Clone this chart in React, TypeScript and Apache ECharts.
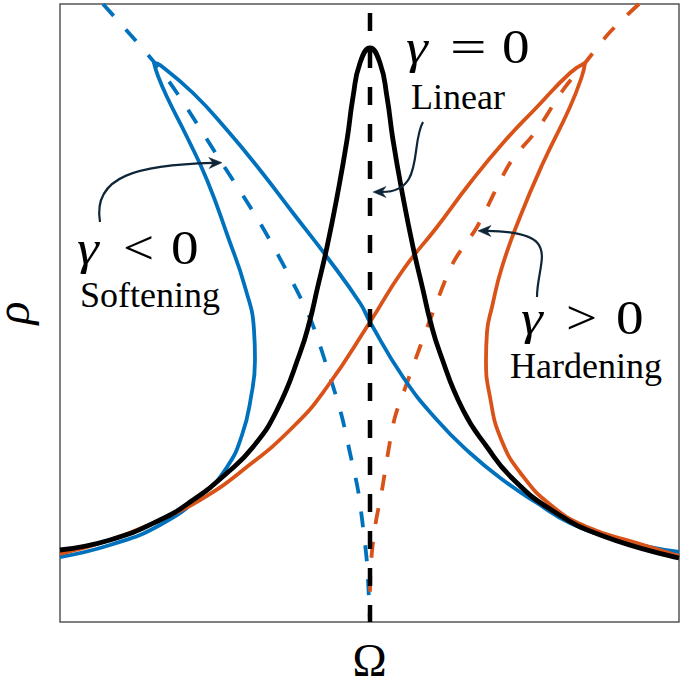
import React, { useEffect, useRef } from "react";
import * as echarts from "echarts";

type P = [number, number];

// Values. Ω axis runs 0..619, ρ axis 0..618 (arbitrary units).
const OMEGA_MAX = 619;
const RHO_MAX = 618;

// γ = 0 (linear) response
const linearCurve: P[] = [
  [0, 72], [50, 82], [100, 102], [133, 122], [167, 149], [193, 175], [217, 212],
  [240, 269], [250, 302], [257, 332], [267, 375], [277, 425], [287, 482], [293, 525],
  [300, 559], [310, 574], [320, 559], [327, 525], [333, 482], [343, 425], [353, 375],
  [363, 332], [370, 302], [380, 269], [403, 212], [427, 175], [453, 143], [493, 111],
  [543, 86], [619, 64],
];

// γ < 0 (softening) response
const softeningCurve: P[] = [
  [0, 65], [50, 77], [100, 97], [143, 128], [167, 155], [182, 187], [191, 225],
  [195, 262], [194, 292], [185, 335], [168, 385], [147, 442], [127, 485], [107, 525],
  [98, 546], [94, 559], [100, 557], [133, 529], [167, 492], [200, 452], [233, 409],
  [267, 365], [300, 319], [310, 300], [343, 245], [377, 202], [410, 169], [443, 142],
  [477, 119], [510, 99], [560, 82], [619, 70],
];

// γ > 0 (hardening) response
const hardeningCurve: P[] = [
  [0, 68], [50, 82], [100, 102], [140, 122], [183, 152], [233, 195], [267, 235],
  [310, 300], [343, 352], [377, 395], [410, 439], [443, 479], [477, 515], [510, 549],
  [525, 559], [522, 546], [510, 515], [483, 459], [460, 405], [442, 355], [432, 315],
  [427, 290], [426, 262], [430, 225], [441, 183], [462, 147], [492, 116], [527, 95],
  [577, 79], [619, 66],
];

// backbone curves (dashed)
const softeningBackbone: P[] = [
  [43, 618], [68, 590], [94, 560], [117, 529], [160, 462], [200, 399], [233, 339],
  [252, 299], [272, 239], [282, 205], [290, 169], [298, 132], [303, 95], [307, 59],
  [309, 22], [310, 0],
];
const hardeningBackbone: P[] = [
  [579, 618], [550, 590], [525, 559], [503, 532], [477, 492], [450, 459], [417, 395],
  [393, 359], [370, 302], [360, 275], [347, 239], [335, 205], [328, 169], [322, 132],
  [315, 95], [311, 59], [310, 22], [310, 0],
];
const linearBackbone: P[] = [[310, 609], [310, 0]];

// annotation arrows: [start, control 1, control 2, end] in data units
const arrowSoftening: P[] = [[40, 400], [32, 447], [80, 457], [150, 459]];
const arrowLinear: P[] = [[363, 500], [350, 477], [365, 430], [325, 430]];
const arrowHardening: P[] = [[477, 325], [477, 362], [505, 390], [430, 391]];

const BLUE = "#0072BD";
const ORANGE = "#D95319";
const ARROW = "#0f2638";
const SERIF = "'Liberation Serif', 'DejaVu Serif', serif";

export default function App() {
  const ref = useRef<HTMLDivElement>(null);

  useEffect(() => {
    document.body.style.margin = "0";
    const chart = echarts.init(ref.current!, null, { renderer: "svg" });

    const line = (data: P[], color: string, width: number, type: any, z: number, smooth = 0.5) => ({
      type: "line",
      data,
      smooth,
      showSymbol: false,
      symbol: "none",
      silent: true,
      z,
      lineStyle: { color, width, type, cap: "butt", join: "round" },
    });

    chart.setOption({
      animation: false,
      backgroundColor: "#ffffff",
      grid: {
        left: 60,
        top: 4,
        width: 619,
        height: 618,
        show: true,
        containLabel: false,
        outerBoundsMode: "none",
        borderColor: "#555555",
        borderWidth: 1.5,
        backgroundColor: "transparent",
      },
      xAxis: {
        type: "value",
        min: 0,
        max: OMEGA_MAX,
        name: "Ω",
        nameLocation: "middle",
        nameGap: 15,
        nameTextStyle: { fontFamily: SERIF, fontSize: 46, color: "#000" },
        axisLine: { show: false },
        axisTick: { show: false },
        axisLabel: { show: false },
        splitLine: { show: false },
      },
      yAxis: {
        type: "value",
        min: 0,
        max: RHO_MAX,
        name: "ρ",
        nameLocation: "middle",
        nameGap: 24,
        nameRotate: 90,
        nameTextStyle: { fontFamily: SERIF, fontSize: 48, fontStyle: "italic", color: "#000" },
        axisLine: { show: false },
        axisTick: { show: false },
        axisLabel: { show: false },
        splitLine: { show: false },
      },
      series: [
        line(softeningBackbone, BLUE, 3.8, [16, 18], 2, 0.3),
        line(hardeningBackbone, ORANGE, 3.8, [16, 18], 3, 0.3),
        line(softeningCurve, BLUE, 3.8, "solid", 4),
        line(hardeningCurve, ORANGE, 3.8, "solid", 5),
        line(linearCurve, "#000000", 4.8, "solid", 6),
        line(linearBackbone, "#000000", 4.5, [18, 19], 7, 0),
      ],
    });

    const px = (p: P) => chart.convertToPixel({ gridIndex: 0 }, p) as number[];

    const arrow = (pts: P[]) => {
      const [s, c1, c2, e] = pts.map(px);
      const dx = e[0] - c2[0];
      const dy = e[1] - c2[1];
      const L = Math.hypot(dx, dy) || 1;
      const ux = dx / L, uy = dy / L;
      const nx = -uy, ny = ux;
      const tip = [e[0] + ux * 12, e[1] + uy * 12];
      const head = [
        tip,
        [e[0] + nx * 5.5 - ux * 1, e[1] + ny * 5.5 - uy * 1],
        [e[0] + ux * 3, e[1] + uy * 3],
        [e[0] - nx * 5.5 - ux * 1, e[1] - ny * 5.5 - uy * 1],
      ];
      return [
        {
          type: "bezierCurve",
          silent: true,
          z: 20,
          shape: {
            x1: s[0], y1: s[1], cpx1: c1[0], cpy1: c1[1],
            cpx2: c2[0], cpy2: c2[1], x2: e[0] + ux * 3, y2: e[1] + uy * 3,
          },
          style: { stroke: ARROW, lineWidth: 2.2, fill: "none" },
        },
        { type: "polygon", silent: true, z: 21, shape: { points: head }, style: { fill: ARROW, stroke: ARROW, lineWidth: 0.5 } },
      ];
    };

    const txt = (s: string, at: P, size: number, italic = false, scaleX = 1) => {
      const [x, y] = px(at);
      return {
        type: "text",
        silent: true,
        z: 22,
        x,
        y,
        scaleX,
        style: {
          text: s,
          fontFamily: SERIF,
          fontSize: size,
          fontStyle: italic ? "italic" : "normal",
          fill: "#000",
          align: "left",
          verticalAlign: "middle",
          textAlign: "left",
          textVerticalAlign: "middle",
        },
      };
    };

    const MATH = 48;
    const WORD = 36;
    chart.setOption({
      graphic: [
        ...arrow(arrowSoftening),
        ...arrow(arrowLinear),
        ...arrow(arrowHardening),
        txt("γ", [346, 575], MATH, true, 1.15),
        txt("=", [390, 575], MATH, false, 1.35),
        txt("0", [442, 575], MATH, false, 1.15),
        txt("Linear", [351, 525], WORD),
        txt("γ", [17, 374], MATH, true, 1.15),
        txt("<", [63, 374], MATH, false, 1.15),
        txt("0", [111, 374], MATH, false, 1.15),
        txt("Softening", [20, 327], WORD),
        txt("γ", [461, 304], MATH, true, 1.15),
        txt(">", [506, 304], MATH, false, 1.15),
        txt("0", [556, 304], MATH, false, 1.15),
        txt("Hardening", [450, 256], WORD),
      ],
    });

    return () => chart.dispose();
  }, []);

  return <div ref={ref} style={{ width: 685, height: 684, background: "#fff" }} />;
}
